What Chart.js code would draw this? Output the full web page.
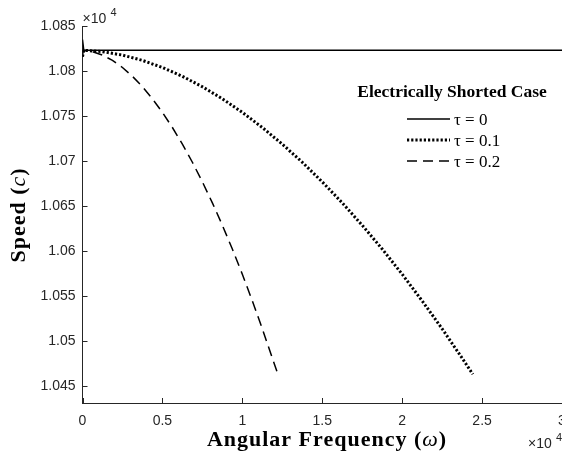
<!DOCTYPE html>
<html>
<head>
<meta charset="utf-8">
<script src="https://cdn.jsdelivr.net/npm/chart.js@4.4.1/dist/chart.umd.min.js"></script>
<style>
    html, body { margin: 0; padding: 0; background: #fff; }
    #wrap { width: 562px; height: 454px; }
</style>
</head>
<body>
<div id="wrap"><canvas id="speed" width="562" height="454"></canvas></div>
<script>
// values are in raw units (the axes show them x 10^4)
const tau0Omega = [0, 80, 30000];
const tau0Speed = [10835, 10823, 10823];

const tau01Omega = [0, 80, 1250, 2500, 3750, 5000, 6250, 7500, 8750, 10000, 11250,
    12500, 13750, 15000, 16250, 17500, 18750, 20000, 21250, 22500, 23750, 24420];
const tau01Speed = [10816, 10823, 10821.5, 10817.7, 10811.8, 10803.9, 10794.1, 10782.5,
    10769.1, 10754, 10737.2, 10718.7, 10698.6, 10676.8, 10653.5, 10628.6, 10602.2,
    10574.2, 10544.6, 10513.6, 10481, 10463];

const tau02Omega = [0, 40, 625, 1250, 1875, 2500, 3125, 3750, 4375, 5000, 5625,
    6250, 6875, 7500, 8125, 8750, 9375, 10000, 10625, 11250, 11875, 12230];
const tau02Speed = [10816, 10823, 10821.5, 10817.7, 10811.8, 10803.9, 10794.1, 10782.5,
    10769.1, 10754, 10737.2, 10718.7, 10698.6, 10676.8, 10653.5, 10628.6, 10602.2,
    10574.2, 10544.6, 10513.6, 10481, 10463];

const xTicks = [0, 5000, 10000, 15000, 20000, 25000, 30000];
const yTicks = [10450, 10500, 10550, 10600, 10650, 10700, 10750, 10800, 10850];

const legendTitle = 'Electrically Shorted Case';
const legendLabels = ['\u03c4 = 0', '\u03c4 = 0.1', '\u03c4 = 0.2'];

const axisColor = '#262626';

function toPoints(xs, ys) {
    let pts = [];
    for (let i = 0; i < xs.length; i++) {
        pts.push({ x: xs[i], y: ys[i] });
    }
    return pts;
}

function lineSet(label, xs, ys, width, dash) {
    return {
        label: label,
        data: toPoints(xs, ys),
        borderColor: '#000',
        borderWidth: width,
        borderDash: dash,
        pointRadius: 0,
        tension: 0,
        fill: false
    };
}

// inward tick marks like matlab
const innerTicks = {
    id: 'innerTicks',
    afterDraw(chart) {
        const ctx = chart.ctx;
        const xs = chart.scales.x, ys = chart.scales.y;
        const area = chart.chartArea;
        ctx.save();
        ctx.strokeStyle = axisColor;
        ctx.lineWidth = 1;
        ctx.beginPath();
        for (const v of xTicks) {
            const px = Math.round(xs.getPixelForValue(v)) + 0.5;
            ctx.moveTo(px, area.bottom);
            ctx.lineTo(px, area.bottom - 5);
        }
        for (const v of yTicks) {
            const py = Math.round(ys.getPixelForValue(v)) + 0.5;
            ctx.moveTo(area.left, py);
            ctx.lineTo(area.left + 5, py);
        }
        ctx.stroke();
        ctx.restore();
    }
};

function drawMixed(ctx, parts, x, y) {
    // parts: [text, font]; centred on x
    let total = 0;
    for (const p of parts) {
        ctx.font = p[1];
        total += ctx.measureText(p[0]).width;
    }
    let cx = x - total / 2;
    for (const p of parts) {
        ctx.font = p[1];
        ctx.fillText(p[0], cx, y);
        cx += ctx.measureText(p[0]).width;
    }
}

const decorations = {
    id: 'decorations',
    afterDraw(chart) {
        const ctx = chart.ctx;
        const area = chart.chartArea;
        ctx.save();
        ctx.fillStyle = '#000';
        ctx.textBaseline = 'alphabetic';
        ctx.textAlign = 'left';

        // axis titles
        const bold = 'bold 22px "Liberation Serif"';
        const ital = 'italic 22px "Liberation Serif"';
        ctx.letterSpacing = '1px';
        drawMixed(ctx, [['Angular Frequency (', bold], ['\u03c9', ital], [')', bold]], 327, 446);

        ctx.save();
        ctx.translate(25, 215);
        ctx.rotate(-Math.PI / 2);
        drawMixed(ctx, [['Speed (', bold], ['c', ital], [')', bold]], 0, 0);
        ctx.restore();
        ctx.letterSpacing = '0px';

        // exponent labels
        ctx.fillStyle = axisColor;
        ctx.font = '14px "Liberation Sans"';
        ctx.fillText('\u00d710', area.left, 23);
        ctx.font = '11px "Liberation Sans"';
        ctx.fillText('4', area.left + 28, 16);
        ctx.font = '14px "Liberation Sans"';
        ctx.fillText('\u00d710', 528, 448);
        ctx.font = '11px "Liberation Sans"';
        ctx.fillText('4', 556, 441);

        // legend
        ctx.fillStyle = '#000';
        ctx.font = 'bold 17.5px "Liberation Serif"';
        ctx.textAlign = 'center';
        ctx.fillText(legendTitle, 452, 97);
        ctx.textAlign = 'left';
        ctx.font = '17px "Liberation Serif"';
        const rows = [119, 140, 161];
        chart.data.datasets.forEach(function (ds, i) {
            const y = rows[i];
            ctx.save();
            ctx.strokeStyle = '#000';
            ctx.lineWidth = ds.borderWidth;
            ctx.setLineDash(ds.borderDash || []);
            ctx.beginPath();
            ctx.moveTo(407, y);
            ctx.lineTo(450, y);
            ctx.stroke();
            ctx.restore();
            ctx.fillText(legendLabels[i], 454, y + 6);
        });
        ctx.restore();
    }
};

let context = document.getElementById('speed').getContext('2d');
window.chart = new Chart(context, {
    type: 'line',
    data: {
        datasets: [
            lineSet(legendLabels[0], tau0Omega, tau0Speed, 1.5, []),
            lineSet(legendLabels[1], tau01Omega, tau01Speed, 3, [2.2, 2]),
            lineSet(legendLabels[2], tau02Omega, tau02Speed, 1.5, [10, 6])
        ]
    },
    options: {
        responsive: false,
        animation: false,
        events: [],
        layout: { padding: { top: 26, right: 0, left: 0, bottom: 0 } },
        plugins: {
            legend: { display: false },
            tooltip: { enabled: false }
        },
        scales: {
            x: {
                type: 'linear',
                min: 0,
                max: 30000,
                afterBuildTicks: function (scale) {
                    scale.ticks = xTicks.map(v => ({ value: v }));
                },
                afterFit: function (scale) {
                    scale.height = 51;
                    scale.paddingLeft = 0;
                    scale.paddingRight = 0;
                },
                grid: { display: true, drawOnChartArea: false, drawTicks: false },
                border: { display: true, color: axisColor, width: 1 },
                ticks: {
                    color: axisColor,
                    font: { family: 'Liberation Sans', size: 14 },
                    padding: 10,
                    maxRotation: 0,
                    callback: v => String(v / 10000)
                }
            },
            y: {
                type: 'linear',
                min: 10431.1,
                max: 10850,
                afterBuildTicks: function (scale) {
                    scale.ticks = yTicks.map(v => ({ value: v }));
                },
                afterFit: function (scale) {
                    scale.width = 82.5;
                    scale.paddingTop = 0;
                    scale.paddingBottom = 0;
                },
                grid: { display: true, drawOnChartArea: false, drawTicks: false },
                border: { display: true, color: axisColor, width: 1 },
                ticks: {
                    color: axisColor,
                    font: { family: 'Liberation Sans', size: 14 },
                    padding: 7,
                    callback: v => String(Math.round(v / 10) / 1000)
                }
            }
        }
    },
    plugins: [innerTicks, decorations]
});
</script>
</body>
</html>
